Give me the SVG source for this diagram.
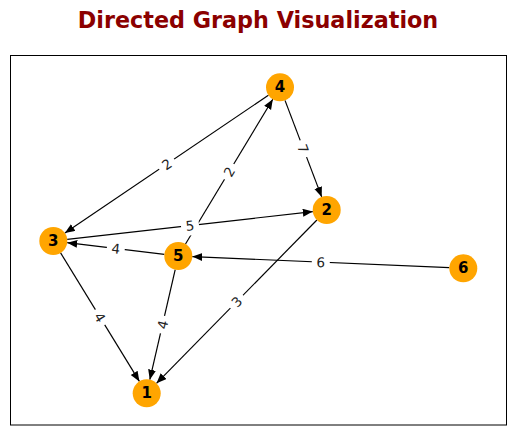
<svg xmlns="http://www.w3.org/2000/svg" width="515" height="435" viewBox="0 0 515 435">
<style>
.edge{stroke:#000;stroke-width:1.2;fill:none;marker-end:url(#arr)}
.node circle{fill:#FFA500}
.node text{font-family:"DejaVu Sans",sans-serif;font-weight:bold;font-size:15px;fill:#000;text-anchor:middle;dominant-baseline:central}
.lbl rect{fill:#fff}
.lbl text{font-family:"DejaVu Sans",sans-serif;font-size:13.5px;fill:#222;text-anchor:middle;dominant-baseline:central}
</style>
<defs>
<marker id="arr" markerUnits="userSpaceOnUse" markerWidth="12" markerHeight="10" refX="10" refY="4" orient="auto">
<path d="M0,0 L10,4 L0,8 z" fill="#000"/>
</marker>
</defs>
<rect width="515" height="435" fill="#fff"/>
<text x="258" y="28" font-family="DejaVu Sans,sans-serif" font-weight="bold" font-size="22.3px" fill="#8B0000" text-anchor="middle">Directed Graph Visualization</text>
<rect x="10.5" y="55.5" width="496" height="369.5" fill="none" stroke="#000" stroke-width="1"/>
<g id="edges">
<line class="edge" x1="268.4" y1="95.2" x2="64.9" y2="233.1"/>
<line class="edge" x1="185.5" y1="244.0" x2="272.8" y2="99.3"/>
<line class="edge" x1="285.0" y1="100.4" x2="321.7" y2="196.9"/>
<line class="edge" x1="67.2" y1="239.4" x2="312.8" y2="211.6"/>
<line class="edge" x1="164.4" y1="254.3" x2="67.2" y2="242.7"/>
<line class="edge" x1="449.3" y1="267.7" x2="192.3" y2="256.6"/>
<line class="edge" x1="60.6" y1="252.9" x2="139.4" y2="381.4"/>
<line class="edge" x1="175.2" y1="269.6" x2="149.8" y2="379.7"/>
<line class="edge" x1="316.9" y1="220.0" x2="156.5" y2="383.3"/>
<g class="lbl" transform="translate(166.7,164.2) rotate(-34.1)"><rect x="-9" y="-10" width="18" height="20" rx="4"/><text>2</text></g>
<g class="lbl" transform="translate(229.2,171.7) rotate(-58.9)"><rect x="-9" y="-10" width="18" height="20" rx="4"/><text>2</text></g>
<g class="lbl" transform="translate(303.3,148.7) rotate(69.2)"><rect x="-9" y="-10" width="18" height="20" rx="4"/><text>7</text></g>
<g class="lbl" transform="translate(190,225.5) rotate(-6.5)"><rect x="-9" y="-10" width="18" height="20" rx="4"/><text>5</text></g>
<g class="lbl" transform="translate(115.8,248.5) rotate(6.8)"><rect x="-9" y="-10" width="18" height="20" rx="4"/><text>4</text></g>
<g class="lbl" transform="translate(320.8,262.2) rotate(2.5)"><rect x="-9" y="-10" width="18" height="20" rx="4"/><text>6</text></g>
<g class="lbl" transform="translate(100,317.2) rotate(58.5)"><rect x="-9" y="-10" width="18" height="20" rx="4"/><text>4</text></g>
<g class="lbl" transform="translate(162.5,324.7) rotate(-77)"><rect x="-9" y="-10" width="18" height="20" rx="4"/><text>4</text></g>
<g class="lbl" transform="translate(236.7,301.7) rotate(-45.5)"><rect x="-9" y="-10" width="18" height="20" rx="4"/><text>3</text></g>
</g>
<g id="node1" class="node"><circle cx="146.7" cy="393.3" r="14"/><text x="146.7" y="393.3">1</text></g>
<g id="node2" class="node"><circle cx="326.7" cy="210" r="14"/><text x="326.7" y="210">2</text></g>
<g id="node3" class="node"><circle cx="53.3" cy="241" r="14"/><text x="53.3" y="241">3</text></g>
<g id="node4" class="node"><circle cx="280" cy="87.3" r="14"/><text x="280" y="87.3">4</text></g>
<g id="node5" class="node"><circle cx="178.3" cy="256" r="14"/><text x="178.3" y="256">5</text></g>
<g id="node6" class="node"><circle cx="463.3" cy="268.3" r="14"/><text x="463.3" y="268.3">6</text></g>
</svg>
